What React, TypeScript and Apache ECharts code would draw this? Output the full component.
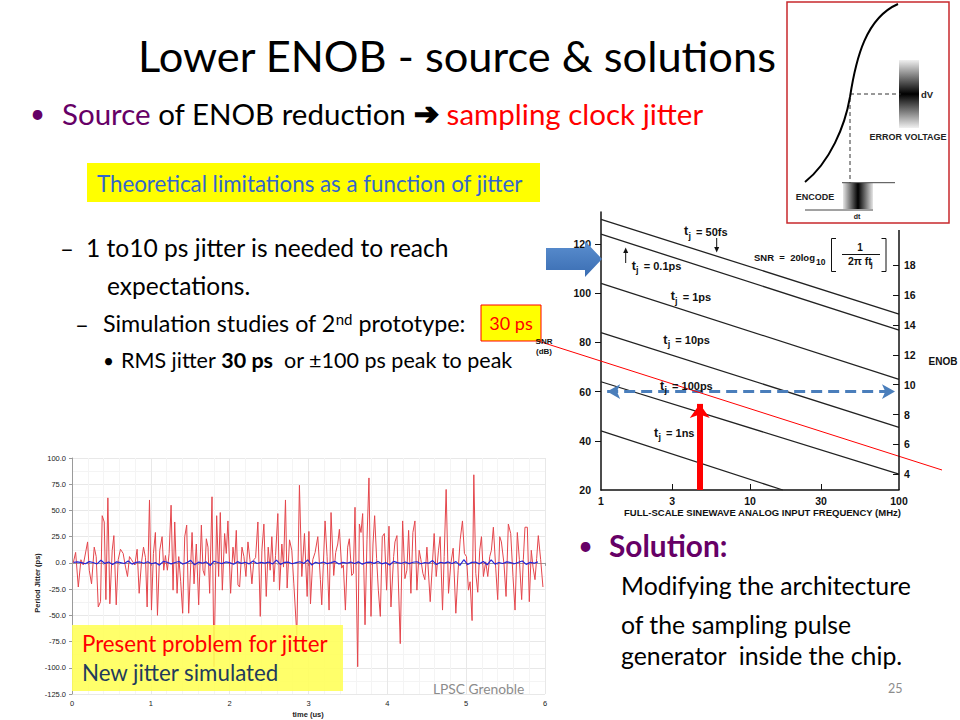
import React, { useEffect, useRef } from "react";
import * as echarts from "echarts";

// ---------------- data ----------------
const freqLabels = [1, 3, 10, 30, 100];
const freqInnerTicks = [3, 10, 30];
const snrLabels = [20, 40, 60, 80, 100, 120];
const snrTickValues = [40, 60, 80, 100, 120];
const enobLabels = [4, 6, 8, 10, 12, 14, 16, 18];
const jitterNames = ["50fs", "0.1ps", "1ps", "10ps", "100ps", "1ns"];
const lineStartFreq = [1, 1, 1, 1, 1, 1];
const lineStartSnr = [130, 124, 104, 84, 64, 44];
const lineEndFreq = [100, 100, 100, 100, 100, 16.6];
const lineEndSnr = [91.5, 85, 65, 45.5, 26.5, 20];
const targetSnr = 60;
const targetFreqRange = [1.1, 94];
const markerFreq = 4.6;
const markerSnrRange = [20, 55];

// time (us), period jitter (ps) — present design
const presentJitter: [number, number][] = [
  [0.016, 0], [0.046, 10], [0.08, -23], [0.113, 3], [0.143, -2], [0.198, 20], [0.219, -7], [0.248, -20],
  [0.282, 15], [0.307, 6], [0.333, -42], [0.362, -37], [0.383, 45], [0.409, 39], [0.43, -35], [0.455, 62],
  [0.48, -39], [0.51, 12], [0.531, 26], [0.561, -40], [0.586, 3], [0.615, 13], [0.649, 9], [0.679, -4],
  [0.704, -13], [0.729, 6], [0.755, 3], [0.797, -2], [0.826, 13], [0.852, -29], [0.881, 0], [0.907, 15],
  [0.932, 5], [0.953, -42], [0.983, 60], [1.008, -45], [1.033, 9], [1.058, 29], [1.084, -50], [1.113, 12],
  [1.143, 25], [1.164, -7], [1.185, 7], [1.21, -7], [1.232, 9], [1.257, 55], [1.282, -26], [1.303, 39],
  [1.333, -29], [1.354, 6], [1.379, -18], [1.404, -48], [1.43, 25], [1.455, 36], [1.48, -48], [1.523, 29],
  [1.548, -20], [1.577, 18], [1.607, -40], [1.641, 36], [1.662, -7], [1.683, -12], [1.704, 23], [1.725, 15],
  [1.746, -29], [1.776, 63], [1.801, -99], [1.835, 45], [1.86, -13], [1.881, 48], [1.907, -26], [1.936, 28],
  [1.957, 9], [1.978, 40], [2.012, -29], [2.042, 15], [2.063, 0], [2.084, 31], [2.105, -21], [2.126, -23],
  [2.156, 15], [2.181, 6], [2.206, -13], [2.232, 20], [2.257, 3], [2.282, -20], [2.307, 3], [2.329, 5],
  [2.358, 39], [2.388, -51], [2.409, 12], [2.434, 37], [2.464, -32], [2.489, 15], [2.514, -7], [2.535, 25],
  [2.561, -18], [2.582, 7], [2.611, 47], [2.632, -26], [2.662, 18], [2.683, -4], [2.708, 60], [2.729, -24],
  [2.759, 22], [2.788, 12], [2.814, -20], [2.852, -69], [2.885, 74], [2.915, -13], [2.949, 28], [2.983, -32],
  [3.005, 30], [3.025, -39], [3.054, 3], [3.084, 10], [3.118, 25], [3.151, -16], [3.168, -40], [3.21, 40],
  [3.236, 6], [3.261, -45], [3.286, 48], [3.32, -12], [3.345, 10], [3.371, 18], [3.392, 32], [3.421, -5],
  [3.442, -2], [3.468, -45], [3.497, 15], [3.518, 23], [3.548, -12], [3.569, -10], [3.59, 53], [3.624, -99],
  [3.645, 37], [3.666, 29], [3.687, 47], [3.717, -59], [3.742, 22], [3.767, 81], [3.793, -51], [3.818, 18],
  [3.839, 45], [3.864, 4], [3.886, -26], [3.911, -51], [3.936, 25], [3.962, 28], [3.991, -26], [4.021, 35],
  [4.046, -42], [4.08, 6], [4.097, 20], [4.122, 26], [4.164, -77], [4.194, 40], [4.223, -15], [4.248, -7],
  [4.27, 31], [4.299, -29], [4.324, 29], [4.35, 40], [4.375, -26], [4.404, 12], [4.426, 3], [4.451, -10],
  [4.476, -16], [4.502, 15], [4.544, -37], [4.594, 28], [4.62, -13], [4.649, 12], [4.67, 25], [4.7, -45],
  [4.721, 6], [4.746, 70], [4.776, -29], [4.805, -1], [4.835, 14], [4.869, -48], [4.898, -7], [4.924, 22],
  [4.953, 40], [4.978, 9], [5.004, 6], [5.029, -26], [5.05, -18], [5.075, -55], [5.097, 84], [5.122, -10],
  [5.147, -28], [5.172, 12], [5.194, 25], [5.219, -13], [5.248, 1], [5.274, -13], [5.299, 6], [5.32, 12],
  [5.345, 34], [5.375, -5], [5.4, -35], [5.426, 25], [5.447, 20], [5.48, -1], [5.506, -32], [5.535, 37],
  [5.565, 28], [5.594, -13], [5.62, -45], [5.649, 29], [5.675, 3], [5.704, -35], [5.725, 3], [5.746, 34],
  [5.776, 34], [5.801, -37], [5.826, 12], [5.848, -4], [5.873, -16], [5.894, 4], [5.915, 26], [5.945, 3],
  [5.974, -23],
];

// new simulated jitter (ps), sampled every newJitterStep us from newJitterStart
const newJitterStart = 0.02;
const newJitterStep = 0.0495;
const newJitter = [
  0.5, 1, 0.3, -0.8, 1.2, 0.4, -1, 2.5, -0.5, 0.8, -1.5, 1, 0.2, -0.6, 1.8, -1.2, 0.5, 0.9, -0.4, 1.1,
  -0.8, 0.3, -2.2, 1.5, 0.6, -0.9, 0.4, 1.3, -1.1, 0.2, 2.4, -1.8, 0.7, -0.3, 1, -2.5, 1.6, 0.4, -0.7, 0.9,
  0.3, -1.3, 1.2, -0.5, 0.6, -0.9, 1.9, -0.6, 0.5, -0.2, 0.8, -1, 2.6, -1.4, 0.4, 0.7, -0.8, 0.3, 1.1, -0.5,
  2.8, -1.9, 0.6, -0.4, 0.9, -0.7, 0.2, 1.4, -1, 0.5, -0.3, 0.8, -0.6, 1, -1.2, 0.4, 0.7, -0.5, 1.3, -0.9,
  0.3, -2, 1.5, 0.2, -0.4, 0.9, -0.7, 0.6, 1.1, -0.8, 0.4, -0.3, 2.2, -1.5, 0.6, -0.2, 0.9, -0.6, 1.2, -2.4,
  3, -1.6, 0.5, 0.8, -0.9, 1.4, -1.8, 2.9, -1.2, 0.4, -0.6, 1, 0.3, -0.8, 0.6, 1.8, -1.4, 0.5, -0.3, 0.9,
];

// ---------------- layout helpers ----------------
const SANS = "Lato";
const ARIAL = "Liberation Sans";
const tjLabelPos = [
  [684, 235.7], [631.7, 270], [670.7, 300.7], [663.3, 344.3], [660, 390], [654, 437.3],
];

function txt(x: number, y: number, text: string, size: number, fill: string, extra: any = {}, elExtra: any = {}) {
  return {
    type: "text", x, y, z: 20, silent: true,
    style: { text, fill, fontSize: size, fontFamily: SANS, align: "left", verticalAlign: "middle", ...extra },
    ...elExtra,
  };
}
function ln(x1: number, y1: number, x2: number, y2: number, stroke: string, lineWidth = 1, extra: any = {}) {
  return { type: "line", z: 20, silent: true, shape: { x1, y1, x2, y2 }, style: { stroke, lineWidth, ...extra } };
}

function buildGraphics() {
  const g: any[] = [];
  // ---- slide texts ----
  g.push(txt(138, 55, "Lower ENOB - source & solutions", 43.4, "#000"));
  g.push(txt(30, 113, "•", 26, "#660066"));
  g.push(
    txt(62, 113, "{p|Source} of ENOB reduction {a|➔} {r|sampling clock jitter}", 29.5, "#000", {
      rich: {
        p: { fill: "#660066", fontSize: 29.5, fontFamily: SANS },
        a: { fill: "#000", fontSize: 30, fontFamily: "DejaVu Sans", fontWeight: "bold", stroke: "#000", lineWidth: 1.6 },
        r: { fill: "#ff0000", fontSize: 29.5, fontFamily: SANS },
      },
    })
  );
  g.push({ type: "rect", z: 15, silent: true, shape: { x: 87, y: 163, width: 453, height: 39 }, style: { fill: "#ffff00" } });
  g.push(txt(97, 183, "Theoretical limitations as a function of jitter", 22.3, "#3366cc"));
  g.push(txt(60, 247, "–", 24, "#000"));
  g.push(txt(86, 247, "1 to10 ps jitter is needed to reach", 24.6, "#000"));
  g.push(txt(107, 285, "expectations.", 24.5, "#000"));
  g.push(txt(75, 323, "–", 24, "#000"));
  g.push(
    txt(103, 323, "Simulation studies of 2{s|nd} prototype:", 23.3, "#000", {
      rich: { s: { fontSize: 15, fontFamily: SANS, fill: "#000", verticalAlign: "top" } },
    })
  );
  g.push(txt(103, 360, "•", 19, "#000"));
  g.push(
    txt(121, 360, "RMS jitter {b|30 ps}  or ±100 ps peak to peak", 21.5, "#000", {
      rich: { b: { fontSize: 21.5, fontFamily: SANS, fontWeight: "bold", fill: "#000" } },
    })
  );
  g.push({ type: "rect", z: 15, silent: true, shape: { x: 481, y: 305, width: 60, height: 36 }, style: { fill: "#ffff00", stroke: "#ff0000", lineWidth: 1 } });
  g.push(txt(511, 323, "30 ps", 18, "#ff0000", { align: "center" }));
  g.push(ln(538, 341, 942, 470, "#ff0000", 1));

  g.push(txt(578, 545, "•", 26, "#660066"));
  g.push(txt(609, 545, "Solution:", 29.8, "#660066", { fontWeight: "bold" }));
  g.push(txt(621, 585, "Modifying the architecture", 24.8, "#000"));
  g.push(txt(621, 624, "of the sampling pulse", 24.8, "#000"));
  g.push(txt(621, 655, "generator  inside the chip.", 24.8, "#000"));
  g.push(txt(888, 688, "25", 12.5, "#8c8c8c"));

  // ---- blue block arrow ----
  g.push({
    type: "polygon", z: 20, silent: true,
    shape: { points: [[546, 248], [585, 248], [585, 241], [602, 259], [585, 277], [585, 270], [546, 270]] },
    style: {
      fill: new echarts.graphic.LinearGradient(0, 0, 0, 1, [
        { offset: 0, color: "#5b8fd0" },
        { offset: 1, color: "#3a6db2" },
      ]),
    },
  });

  // ---- SNR chart annotations ----
  jitterNames.forEach((name, i) => {
    const [x, b] = tjLabelPos[i];
    g.push(txt(x, b - 4.4, "t", 12.5, "#111", { fontFamily: ARIAL, fontWeight: "bold" }));
    g.push(txt(x + 4.4, b - 0.2, "j", 9, "#111", { fontFamily: ARIAL, fontWeight: "bold" }));
    g.push(txt(x + 9, b - 3.9, " = " + name, 11, "#111", { fontFamily: ARIAL, fontWeight: "bold" }));
  });
  // small arrows
  g.push(ln(625.7, 263, 625.7, 252, "#111", 1));
  g.push({ type: "polygon", z: 20, silent: true, shape: { points: [[623.2, 253], [628.2, 253], [625.7, 247.5]] }, style: { fill: "#111" } });
  g.push(ln(716.7, 238, 716.7, 248, "#111", 1));
  g.push({ type: "polygon", z: 20, silent: true, shape: { points: [[714.2, 247], [719.2, 247], [716.7, 252.5]] }, style: { fill: "#111" } });
  // formula
  g.push(txt(754, 257.5, "SNR  =  20log", 9.5, "#111", { fontFamily: ARIAL, fontWeight: "bold" }));
  g.push(txt(816, 262, "10", 8.5, "#111", { fontFamily: ARIAL, fontWeight: "bold" }));
  g.push({ type: "polyline", z: 20, silent: true, shape: { points: [[836, 238.5], [831.5, 238.5], [831.5, 271.5], [836, 271.5]] }, style: { stroke: "#111", lineWidth: 1, fill: null } });
  g.push({ type: "polyline", z: 20, silent: true, shape: { points: [[881.5, 238.5], [886, 238.5], [886, 271.5], [881.5, 271.5]] }, style: { stroke: "#111", lineWidth: 1, fill: null } });
  g.push(txt(860, 247.5, "1", 10, "#111", { fontFamily: ARIAL, fontWeight: "bold", align: "center" }));
  g.push(ln(842, 254.5, 880, 254.5, "#111", 1));
  g.push(txt(848, 261, "2π ft", 10.5, "#111", { fontFamily: ARIAL, fontWeight: "bold" }));
  g.push(txt(870.5, 264.5, "j", 8, "#111", { fontFamily: ARIAL, fontWeight: "bold" }));
  // axis names
  g.push(txt(762.5, 512, "FULL-SCALE SINEWAVE ANALOG INPUT FREQUENCY (MHz)", 9.5, "#111", { fontFamily: ARIAL, fontWeight: "bold", align: "center" }));
  g.push(txt(943, 361, "ENOB", 10, "#111", { fontFamily: ARIAL, fontWeight: "bold", align: "center" }));
  g.push(txt(544, 341, "SNR", 8, "#111", { fontFamily: ARIAL, fontWeight: "bold", align: "center" }));
  g.push(txt(544, 351, "(dB)", 8, "#111", { fontFamily: ARIAL, fontWeight: "bold", align: "center" }));
  g.push(ln(899, 230, 899, 490, "#111", 1.5));

  // ---- jitter chart annotations ----
  g.push(txt(37, 583, "Period Jitter (ps)", 7.5, "#222", { fontFamily: ARIAL, fontWeight: "bold", align: "center" }, { rotation: Math.PI / 2 }));
  g.push(txt(308, 714, "time (us)", 7.5, "#222", { fontFamily: ARIAL, fontWeight: "bold", align: "center" }));
  g.push({ type: "rect", z: 18, silent: true, shape: { x: 72, y: 625, width: 271, height: 66 }, style: { fill: "rgba(255,255,90,0.9)" } });
  g.push(txt(82, 643, "Present problem for jitter", 22.3, "#ff0000"));
  g.push(txt(82, 672, "New jitter simulated", 22.3, "#1f3b5c"));
  g.push(txt(433, 688, "LPSC Grenoble", 13.8, "#8c8c8c"));

  // ---- encode diagram ----
  g.push({ type: "rect", z: 16, silent: true, shape: { x: 787, y: 2, width: 162, height: 221 }, style: { fill: "#fff", stroke: "#c8282d", lineWidth: 1.5 } });
  g.push({
    type: "rect", z: 20, silent: true, shape: { x: 843, y: 183, width: 30, height: 26 },
    style: {
      fill: new echarts.graphic.LinearGradient(0, 0, 1, 0, [
        { offset: 0, color: "#e6e6e6" }, { offset: 0.5, color: "#000" }, { offset: 1, color: "#e6e6e6" },
      ]),
    },
  });
  g.push({
    type: "rect", z: 20, silent: true, shape: { x: 899, y: 60, width: 20, height: 68 },
    style: {
      fill: new echarts.graphic.LinearGradient(0, 0, 0, 1, [
        { offset: 0, color: "#f0f0f0" }, { offset: 0.5, color: "#000" }, { offset: 1, color: "#f0f0f0" },
      ]),
    },
  });
  g.push({ type: "bezierCurve", z: 21, silent: true, shape: { x1: 805, y1: 182, cpx1: 830, cpy1: 162, cpx2: 845, cpy2: 126, x2: 850, y2: 97 }, style: { stroke: "#000", lineWidth: 2, fill: null } });
  g.push({ type: "bezierCurve", z: 21, silent: true, shape: { x1: 850, y1: 97, cpx1: 856, cpy1: 58, cpx2: 866, cpy2: 18, x2: 898, y2: 4 }, style: { stroke: "#000", lineWidth: 2, fill: null } });
  g.push(ln(850, 94, 901, 94, "#333", 1, { lineDash: [4, 3] }));
  g.push(ln(850, 98, 850, 183, "#333", 1, { lineDash: [4, 3] }));
  g.push(ln(842, 182.7, 895, 182.7, "#444", 1));
  g.push(ln(805, 210, 873, 210, "#444", 1));
  g.push(txt(815, 197, "ENCODE", 9, "#222", { fontFamily: ARIAL, fontWeight: "bold", align: "center" }));
  g.push(txt(857, 216.5, "dt", 7, "#222", { fontFamily: ARIAL, fontWeight: "bold", align: "center" }));
  g.push(txt(927, 94, "dV", 9.5, "#222", { fontFamily: ARIAL, fontWeight: "bold", align: "center" }));
  g.push(txt(908, 137, "ERROR VOLTAGE", 9, "#222", { fontFamily: ARIAL, fontWeight: "bold", align: "center" }));
  return g;
}

function buildOption(): any {
  const boldLabel = { color: "#111", fontWeight: "bold", fontSize: 10.5, fontFamily: ARIAL };
  const smallLabel = { color: "#222", fontSize: 7.5, fontFamily: ARIAL };
  const series: any[] = jitterNames.map((name, i) => ({
    name, type: "line", xAxisIndex: 0, yAxisIndex: 0, symbol: "none", silent: true,
    lineStyle: { color: "#222", width: 1.3 },
    data: [[lineStartFreq[i], lineStartSnr[i]], [lineEndFreq[i], lineEndSnr[i]]],
  }));
  series.push({
    type: "line", xAxisIndex: 0, yAxisIndex: 0, data: [], silent: true,
    markLine: {
      silent: true, symbol: ["arrow", "arrow"], symbolSize: [11, 13], label: { show: false },
      lineStyle: { color: "#4a7ebb", width: 3, type: [11, 6] },
      data: [[{ coord: [targetFreqRange[0], targetSnr] }, { coord: [targetFreqRange[1], targetSnr] }]],
    },
  });
  series.push({
    type: "line", xAxisIndex: 0, yAxisIndex: 0, data: [], silent: true,
    markLine: {
      silent: true, symbol: ["none", "arrow"], symbolSize: [15, 14], label: { show: false },
      lineStyle: { color: "#ff0000", width: 6, type: "solid" },
      data: [[{ coord: [markerFreq, markerSnrRange[0]] }, { coord: [markerFreq, markerSnrRange[1]] }]],
    },
  });
  series.push({
    name: "present", type: "line", xAxisIndex: 1, yAxisIndex: 2, symbol: "none", silent: true,
    lineStyle: { color: "#e4464c", width: 1 }, data: presentJitter,
  });
  series.push({
    name: "new", type: "line", xAxisIndex: 1, yAxisIndex: 2, symbol: "none", silent: true,
    lineStyle: { color: "#2626d8", width: 1.2 },
    data: newJitter.map((v, i) => [newJitterStart + i * newJitterStep, v]),
  });

  return {
    animation: false,
    backgroundColor: "#ffffff",
    grid: [
      { left: 601, top: 212, width: 298, height: 278 },
      { left: 72, top: 458, width: 473, height: 236 },
    ],
    xAxis: [
      {
        type: "log", gridIndex: 0, min: 1, max: 100, logBase: 10,
        axisLine: { lineStyle: { color: "#111", width: 1.5 } },
        axisTick: { show: true, inside: true, length: 6, customValues: freqInnerTicks, lineStyle: { color: "#111" } },
        axisLabel: { ...boldLabel, customValues: freqLabels, margin: 5 },
        splitLine: { show: false }, minorTick: { show: false }, minorSplitLine: { show: false },
      },
      {
        type: "value", gridIndex: 1, min: 0, max: 6, interval: 1,
        axisLine: { lineStyle: { color: "#9a9a9a" } },
        axisTick: { length: 3, lineStyle: { color: "#9a9a9a" } },
        minorTick: { show: true, splitNumber: 5, length: 2, lineStyle: { color: "#b0b0b0" } },
        axisLabel: { ...smallLabel, margin: 5 },
        splitLine: { lineStyle: { color: "#e8e8e8" } },
        minorSplitLine: { show: true, lineStyle: { color: "#f4f4f4" } },
      },
    ],
    yAxis: [
      {
        type: "value", gridIndex: 0, min: 20, max: 133,
        axisLine: { show: true, lineStyle: { color: "#111", width: 1.5 } },
        axisTick: { show: true, length: 6, customValues: snrTickValues, lineStyle: { color: "#111" } },
        axisLabel: { ...boldLabel, customValues: snrLabels, margin: 10 },
        splitLine: { show: false },
      },
      {
        type: "value", gridIndex: 0, position: "right", min: 2.95, max: 21.57,
        axisLine: { show: false },
        axisTick: { show: true, inside: true, length: 6, customValues: enobLabels, lineStyle: { color: "#111" } },
        axisLabel: { ...boldLabel, customValues: enobLabels, margin: 5 },
        splitLine: { show: false },
      },
      {
        type: "value", gridIndex: 1, min: -125, max: 100, interval: 25,
        axisLine: { show: true, lineStyle: { color: "#9a9a9a" } },
        axisTick: { show: true, length: 3, lineStyle: { color: "#9a9a9a" } },
        axisLabel: { ...smallLabel, margin: 6, formatter: (v: number) => v.toFixed(1) },
        splitLine: { lineStyle: { color: "#e8e8e8" } },
        minorTick: { show: false, splitNumber: 2 },
        minorSplitLine: { show: true, lineStyle: { color: "#f4f4f4" } },
      },
    ],
    series,
    graphic: { elements: buildGraphics() },
  };
}

export default function App() {
  const ref = useRef<HTMLDivElement>(null);
  useEffect(() => {
    if (!ref.current) return;
    const chart = echarts.init(ref.current, undefined, { renderer: "svg" });
    chart.setOption(buildOption());
    return () => chart.dispose();
  }, []);
  return (
    <div
      ref={ref}
      style={{ position: "absolute", left: 0, top: 0, width: 960, height: 720, background: "#fff" }}
    />
  );
}
